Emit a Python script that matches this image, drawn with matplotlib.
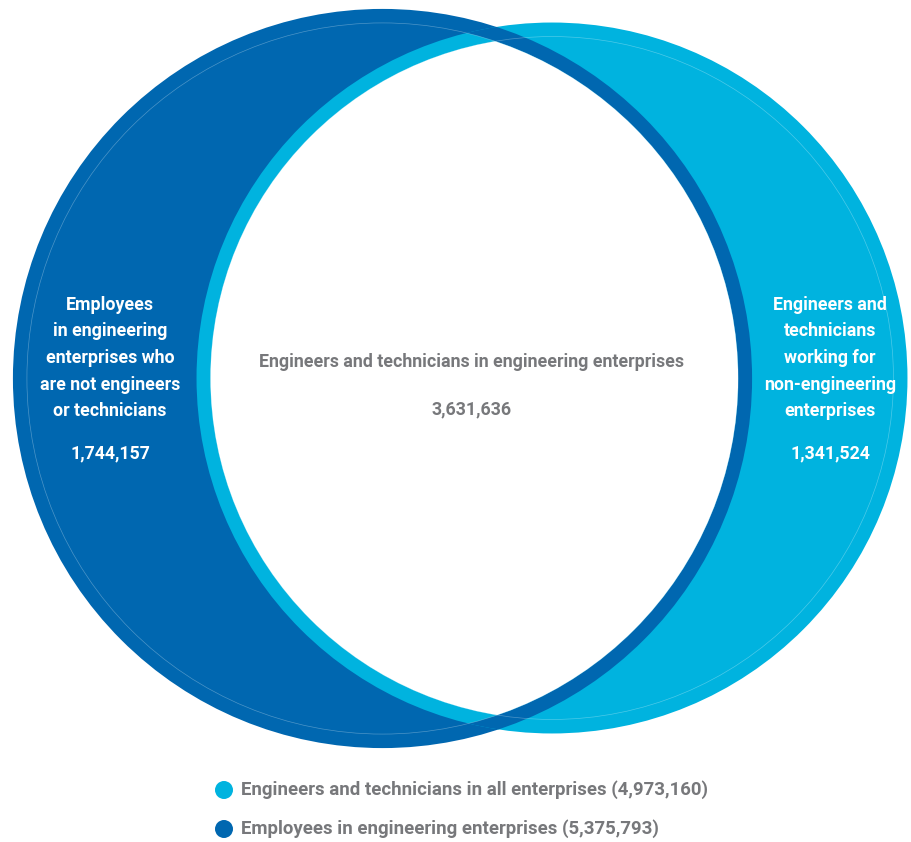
import numpy as np
import matplotlib
matplotlib.use("Agg")
import matplotlib.pyplot as plt
from matplotlib.patches import Circle

# datos
conjuntos = ["Engineers and technicians in all enterprises",
             "Employees in engineering enterprises"]
totales = [4973160, 5375793]
etiqueta_izq = "Employees\nin engineering\nenterprises who\nare not engineers\nor technicians"
valor_izq = 1744157
etiqueta_centro = "Engineers and technicians in engineering enterprises"
valor_centro = 3631636
etiqueta_der = "Engineers and\ntechnicians\nworking for\nnon-engineering\nenterprises"
valor_der = 1341524

AZUL_CLARO = "#00b3df"
AZUL_OSCURO = "#0067b0"
GRIS = "#77787b"
FUENTE = ["Roboto", "DejaVu Sans"]

fig = plt.figure(figsize=(9.12, 8.42), dpi=100)
ax = fig.add_axes([0, 0, 1, 1])
ax.set_xlim(0, 912)
ax.set_ylim(842, 0)
ax.set_aspect("equal")
ax.axis("off")

# radios proporcionales a la raiz del total
escala = 0.1594
r_claro = escala * np.sqrt(totales[0])
r_oscuro = escala * np.sqrt(totales[1])
c_oscuro = (382.5, 378.5)
c_claro = (552, 378)
anillo = 14

ax.add_patch(Circle(c_oscuro, r_oscuro, color=AZUL_OSCURO, lw=0, zorder=1))
ax.add_patch(Circle(c_claro, r_claro, color=AZUL_CLARO, lw=0, zorder=2))

# anillo oscuro sobre la zona clara
borde_claro = Circle(c_claro, r_claro, transform=ax.transData)
anillo_osc = Circle(c_oscuro, r_oscuro - anillo / 2, fill=False,
                    ec=AZUL_OSCURO, lw=anillo * 0.72, zorder=3)
ax.add_patch(anillo_osc)
anillo_osc.set_clip_path(borde_claro)

# interseccion blanca
blanco = Circle(c_oscuro, r_oscuro - anillo, color="white", lw=0, zorder=4)
ax.add_patch(blanco)
blanco.set_clip_path(Circle(c_claro, r_claro - anillo, transform=ax.transData))

# lineas finas
ax.add_patch(Circle(c_oscuro, r_oscuro - anillo, fill=False, ec="white",
                    lw=0.5, alpha=0.3, zorder=5))
ax.add_patch(Circle(c_claro, r_claro - anillo, fill=False, ec="white",
                    lw=0.5, alpha=0.3, zorder=5))

estilo = dict(family=FUENTE, fontweight="bold", fontsize=12.8,
              ha="center", va="center", linespacing=1.62, zorder=6)

ax.text(110, 358, etiqueta_izq, color="white", **estilo)
ax.text(110, 453, f"{valor_izq:,}", color="white", **estilo)
ax.text(830, 358, etiqueta_der, color="white", **estilo)
ax.text(830, 453, f"{valor_der:,}", color="white", **estilo)
ax.text(472, 362, etiqueta_centro, color=GRIS, **estilo)
ax.text(472, 409, f"{valor_centro:,}", color=GRIS, **estilo)

# leyenda
colores = [AZUL_CLARO, AZUL_OSCURO]
for i, (nombre, total) in enumerate(zip(conjuntos, totales)):
    y = 790 + i * 39
    ax.add_patch(Circle((224, y), 9, color=colores[i], lw=0))
    ax.text(241, y, f"{nombre} ({total:,})", color=GRIS, family=FUENTE,
            fontweight="bold", fontsize=13.4, ha="left", va="center")

fig.savefig("out.png", dpi=100)
